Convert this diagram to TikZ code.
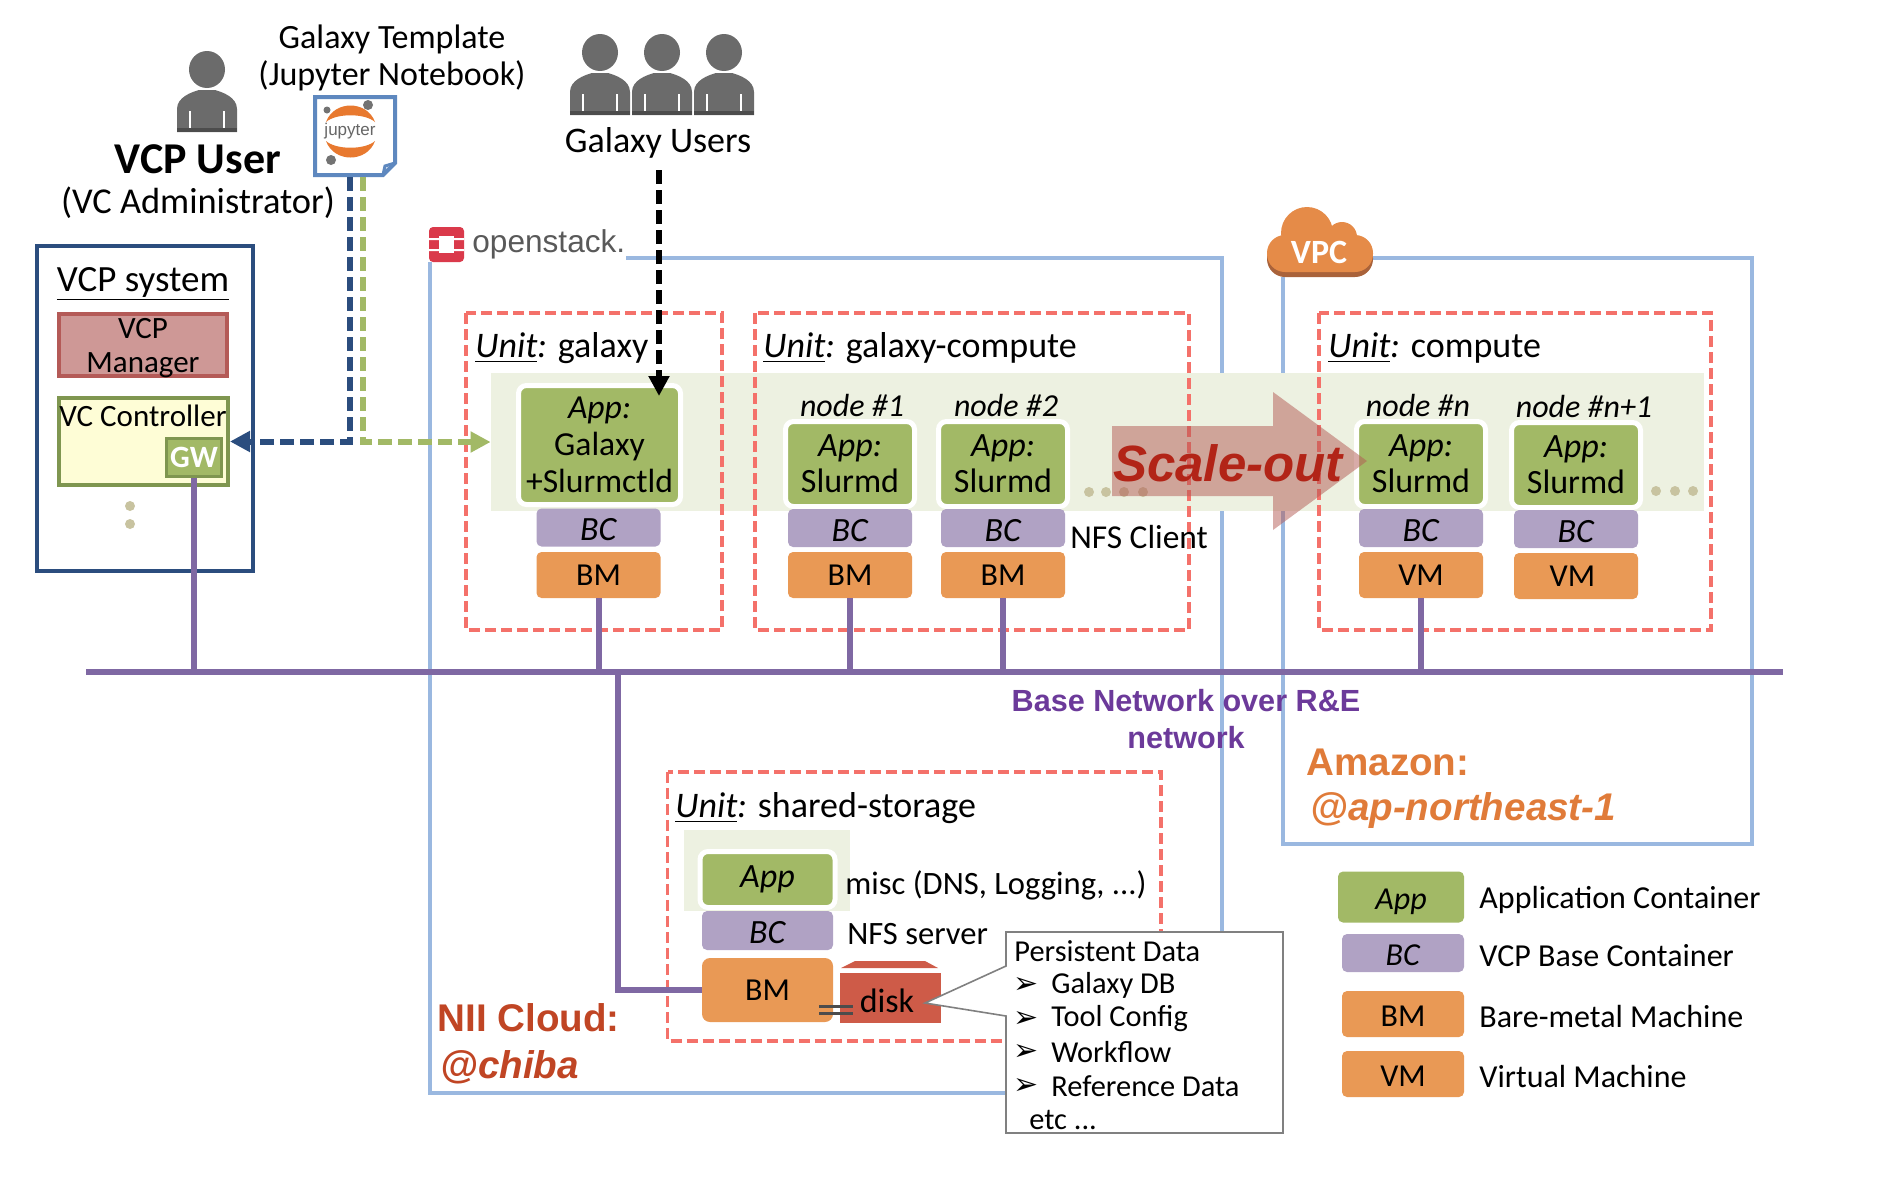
\documentclass[tikz,border=0pt]{standalone}
\usepackage{fontspec}
\setmainfont{Carlito}
\newfontfamily\arialfont{Liberation Sans}
\newfontfamily\symbolfont{DejaVu Sans}
\usepackage{tikz}
\usetikzlibrary{arrows.meta, shapes.geometric}
\usepackage{xcolor}
\definecolor{NavyLine}{HTML}{2B4D7E}
\definecolor{CloudBlue}{HTML}{9AB8E0}
\definecolor{UnitRed}{HTML}{F4716A}
\definecolor{BandGreen}{HTML}{EDF1E1}
\definecolor{AppGreen}{HTML}{A2B966}
\definecolor{EdgeGreen}{HTML}{7F9650}
\definecolor{BCPurple}{HTML}{B0A2C4}
\definecolor{BMOrange}{HTML}{E99955}
\definecolor{NetPurple}{HTML}{7F68A3}
\definecolor{TextPurple}{HTML}{6C3A9A}
\definecolor{DotGray}{HTML}{C8C3A0}
\definecolor{PersonGray}{HTML}{6B6B6B}
\definecolor{DocBlue}{HTML}{5E88BF}
\definecolor{JupOrange}{HTML}{E8792F}
\definecolor{VpcOrange}{HTML}{E58B48}
\definecolor{VpcDark}{HTML}{A9623A}
\definecolor{StackRed}{HTML}{DA3A4B}
\definecolor{NiiRed}{HTML}{C04524}
\definecolor{AmazonOrange}{HTML}{E07B39}
\definecolor{ScaleRed}{HTML}{B22417}
\definecolor{ScaleFill}{HTML}{B35953}
\definecolor{DiskRed}{HTML}{CE5B48}
\definecolor{ManagerEdge}{HTML}{B45A57}
\definecolor{ManagerFill}{HTML}{CE9896}
\definecolor{CtrlFill}{HTML}{FEFDD6}
\tikzset{
  txt/.style={inner sep=0pt, font=\fontsize{18}{21}\selectfont},
  unitbox/.style={draw=UnitRed, line width=1.6pt, dash pattern=on 5.5pt off 2.5pt},
  cloudline/.style={draw=CloudBlue, line width=2pt},
  netline/.style={draw=NetPurple, line width=3pt},
  appbox/.style={draw=white, fill=AppGreen, line width=2.5pt, rounded corners=4pt, inner sep=0pt,
                 align=center, font=\fontsize{17}{18}\selectfont},
  partbox/.style={rounded corners=2.5pt, inner sep=0pt, align=center, text height=10.5pt, text depth=0pt,
                  font=\fontsize{16}{18}\selectfont},
  bcbox/.style={partbox, fill=BCPurple, minimum width=62pt, minimum height=19pt, text height=13pt, font=\fontsize{17}{18}\selectfont},
  bmbox/.style={partbox, fill=BMOrange, minimum width=62pt, minimum height=23pt},
  arrowdash/.style={line width=3pt, dash pattern=on 7pt off 3pt, -{Triangle[length=10pt,width=10pt]}},
  dotmark/.style={circle, fill=DotGray, minimum size=5pt, inner sep=0pt},
  personicon/.pic={
    \fill[PersonGray] (0,18.5) ellipse [x radius=18, y radius=18.5];
    \fill[PersonGray] (-30,81) -- (-30,58) .. controls (-30,46) and (-15,41) .. (-8,39) -- (8,39)
      .. controls (15,41) and (30,46) .. (30,58) -- (30,81) -- cycle;
    \fill[black!70] (-30,77) rectangle (30,81);
    \draw[white, line width=0.6pt] (-17,60) -- (-17,77) (17,60) -- (17,77);
  }
}
\begin{document}
\begin{tikzpicture}[x=0.5pt, y=-0.5pt]
  \useasboundingbox (0,0) rectangle (1882,1184);

  \pic at (207,51) {personicon};
  \foreach \cx in {600,662,724} {
    \pic at (\cx,34) {personicon};
  }
  \node[txt, font=\fontsize{22}{24}\selectfont\bfseries] (vcpuser) at (198,159) {VCP User};
  \node[txt, font=\fontsize{18.2}{21}\selectfont] (vcadmin) at (198,203) {(VC Administrator)};
  \node[txt, font=\fontsize{17}{21}\selectfont] (template) at (392,39) {Galaxy Template};
  \node[txt, font=\fontsize{17}{21}\selectfont] (notebook) at (392,76) {(Jupyter Notebook)};
  \node[txt] (galaxyusers) at (658,143) {Galaxy Users};

  \draw[draw=DocBlue, fill=white, line width=2pt] (315,97) -- (395,97) -- (395,163) -- (383,175) -- (315,175) -- cycle;
  \draw[draw=DocBlue, line width=1.5pt] (395,163) -- (385,166) -- (383,175);
  \fill[JupOrange] (326,122) .. controls (334,100) and (367,100) .. (375,122) .. controls (365,113) and (336,113) .. (326,122) -- cycle;
  \fill[JupOrange] (326,141) .. controls (334,163) and (367,163) .. (375,141) .. controls (365,150) and (336,150) .. (326,141) -- cycle;
  \node[inner sep=0pt, text=black!60, font=\arialfont\fontsize{8.5}{10}\selectfont] (jupyter) at (350,131) {jupyter};
  \fill[black!55] (368,105) circle (5) (327,110) circle (3.5) (331,160) circle (5);
  \coordinate (docnavy) at (349.5,177);
  \coordinate (docgreen) at (363,177);

  \node[draw=NavyLine, line width=2pt, minimum width=108pt, minimum height=162.5pt, inner sep=0pt] (vcpsys) at (144.75,408.5) {};
  \node[txt, font=\fontsize{18.5}{21}\selectfont] (vcpsyslabel) at (143,284) {\underline{VCP system}};
  \node[draw=ManagerEdge, fill=ManagerFill, line width=2pt, minimum width=84pt, minimum height=31pt, inner sep=0pt] (vcpmanager) at (143,345) {};
  \node[inner sep=0pt, align=center, font=\fontsize{15.5}{17}\selectfont] (vcpmanagerlabel) at (143,348) {VCP\\Manager};
  \node[draw=EdgeGreen, fill=CtrlFill, line width=2pt, minimum width=84.5pt, minimum height=43.5pt, inner sep=0pt] (vcctrl) at (143.5,441.5) {};
  \node[inner sep=0pt, font=\fontsize{15.5}{18}\selectfont] (vcctrllabel) at (143,416) {VC Controller};
  \node[draw=EdgeGreen, fill=AppGreen, line width=1.5pt, minimum width=27.5pt, minimum height=19pt, inner sep=0pt, text=white,
        text height=10.5pt, text depth=0pt, font=\fontsize{15.5}{17}\selectfont\bfseries] (vcgw) at (194,457) {GW};
  \node[dotmark] (vcdot1) at (130,506) {};
  \node[dotmark] (vcdot2) at (130,524) {};

  \draw[cloudline] (626,258) -- (1222,258) -- (1222,1093) -- (430,1093) -- (430,262);
  \draw[cloudline] (1373,258) -- (1752,258) -- (1752,844) -- (1283,844) -- (1283,277);

  \fill[StackRed, rounded corners=2pt] (429,227) rectangle (464,262);
  \fill[white] (439,236) rectangle (454,253);
  \fill[white] (429,238) rectangle (439,240) (429,249) rectangle (439,251) (454,238) rectangle (464,240) (454,249) rectangle (464,251);
  \node[inner sep=0pt, anchor=west, text=black!65, font=\arialfont\fontsize{15.8}{18}\selectfont] (openstack) at (472,244) {openstack.};

  \fill[VpcDark, rounded corners=9pt] (1267,240) rectangle (1373,277);
  \fill[VpcOrange, rounded corners=9pt] (1267,235) rectangle (1373,272);
  \fill[VpcOrange] (1307,233) circle (26) (1342,237) circle (15);
  \node[inner sep=0pt, text=white, font=\fontsize{17}{20}\selectfont\bfseries] (vpclabel) at (1319,252) {VPC};

  \node[fill=BandGreen, minimum width=606.5pt, minimum height=69pt, inner sep=0pt] (band) at (1097.5,442) {};

  \draw[unitbox] (466,313) rectangle (722,630);
  \draw[unitbox] (755,313) rectangle (1189,630);
  \draw[unitbox] (1319,313) rectangle (1711,630);
  \draw[unitbox] (667.5,772) rectangle (1161,1041);
  \node[txt, anchor=west] (unitgalaxy) at (475,348.5) {\underline{\textit{Unit}}\textit{:} galaxy};
  \node[txt, anchor=west] (unitcompute) at (763,348.5) {\underline{\textit{Unit}}\textit{:} galaxy-compute};
  \node[txt, anchor=west] (unitaws) at (1328,348.5) {\underline{\textit{Unit}}\textit{:} compute};
  \node[txt, anchor=west] (unitstorage) at (675,808.5) {\underline{\textit{Unit}}\textit{:} shared-storage};

  \node[appbox, minimum width=81pt, minimum height=59.5pt, font=\fontsize{16.8}{18.5}\selectfont] (appgalaxy) at (599.5,445) {\textit{App:}\\Galaxy\\+Slurmctld};
  \node[bcbox] (bcgalaxy) at (598.5,527.5) {\textit{BC}};
  \node[bmbox] (bmgalaxy) at (598.5,575) {BM};

  \foreach \i/\cx/\lx/\dy/\nodename/\machine in {
    1/850/852/0/{node \#1}/BM,
    2/1003/1006/0/{node \#2}/BM,
    3/1421/1418/0/{node \#n}/VM,
    4/1576/1584/1/{node \#n+1}/VM
  }{
    \node[inner sep=0pt, font=\fontsize{16}{18}\selectfont\itshape] (nodelabel\i) at (\lx,405+\dy) {\nodename};
    \node[appbox, minimum width=64.5pt, minimum height=42.5pt] (app\i) at (\cx,464+\dy) {\textit{App:}\\Slurmd};
    \node[bcbox] (bc\i) at (\cx,528+\dy) {\textit{BC}};
    \node[bmbox] (bm\i) at (\cx,575+\dy) {\machine};
  }
  \foreach \i/\cx/\cy in {1/1089/492, 2/1106/492, 3/1124/492, 4/1143/492, 5/1656/491, 6/1675/491, 7/1693/491} {
    \node[dotmark] (banddot\i) at (\cx,\cy) {};
  }
  \node[txt, anchor=west, font=\fontsize{16.7}{20}\selectfont] (nfsclient) at (1070,537) {NFS Client};

  \node[fill=BandGreen, minimum width=83pt, minimum height=40.5pt, inner sep=0pt] (storageband) at (767,870.5) {};
  \node[appbox, minimum width=67.5pt, minimum height=28pt] (app5) at (767.5,879.5) {\textit{App}};
  \node[partbox, fill=BCPurple, minimum width=65.5pt, minimum height=19.5pt, text height=13pt, font=\fontsize{17}{18}\selectfont] (bc5) at (767.5,930.5) {\textit{BC}};
  \node[partbox, fill=BMOrange, minimum width=65.5pt, minimum height=32pt, rounded corners=4pt] (bm5) at (767.5,990) {BM};
  \node[txt, anchor=west, font=\fontsize{16.3}{20}\selectfont] (misclabel) at (845,885) {misc (DNS, Logging, ...)};
  \node[txt, anchor=west, font=\fontsize{16.3}{20}\selectfont] (nfsserver) at (847,934) {NFS server};
  \fill[DiskRed] (855,961) -- (925,961) -- (938,968) -- (841,968) -- cycle;
  \node[fill=DiskRed, minimum width=50.5pt, minimum height=25pt, inner sep=0pt] (disk) at (890.5,998) {};
  \node[inner sep=0pt, font=\fontsize{17}{20}\selectfont] (disklabel) at (887,1001) {disk};
  \draw[black!70, line width=1.5pt] (819,1006) -- (853,1006) (819,1013) -- (853,1013);

  \coordinate (netleft) at (86,672);
  \coordinate (netright) at (1783,672);
  \coordinate (netstorage) at (618,672);
  \draw[netline] (netleft) -- (netright);
  \foreach \src in {vcgw, bmgalaxy, bm1, bm2, bm3} {
    \draw[netline] (\src.south) -- (\src.south |- netleft);
  }
  \draw[netline] (netstorage) |- (bm5.west);

  \node[inner sep=0pt, align=center, text=TextPurple, font=\arialfont\fontsize{15.3}{18.5}\selectfont\bfseries] (netlabel) at (1186,719.5) {Base Network over R\&E\\network};
  \node[inner sep=0pt, anchor=west, text=NiiRed, font=\arialfont\fontsize{19.3}{22}\selectfont\bfseries] (niicloud) at (437,1018) {NII Cloud:};
  \node[inner sep=0pt, anchor=west, text=NiiRed, font=\arialfont\fontsize{19.3}{22}\selectfont\bfseries\itshape] (niichiba) at (440,1067) {@chiba};
  \node[inner sep=0pt, anchor=west, text=AmazonOrange, font=\arialfont\fontsize{19.3}{22}\selectfont\bfseries] (amazon) at (1306,762) {Amazon:};
  \node[inner sep=0pt, anchor=west, text=AmazonOrange, font=\arialfont\fontsize{19.3}{22}\selectfont\bfseries\itshape] (amazonzone) at (1310,811) {@ap-northeast-1};

  \fill[ScaleFill, opacity=0.5] (1112,426) -- (1273,426) -- (1273,392) -- (1367,461) -- (1273,530) -- (1273,496) -- (1112,496) -- cycle;
  \node[inner sep=0pt, text=ScaleRed, font=\arialfont\fontsize{25.5}{28}\selectfont\bfseries\itshape] (scaleout) at (1228,463) {Scale-out};

  \coordinate (usersout) at (659,170);
  \coordinate (appin) at (659,396);
  \draw[arrowdash, draw=black] (usersout) -- (appin);
  \draw[arrowdash, draw=NavyLine] (docnavy) |- (vcctrl.east);
  \draw[arrowdash, draw=AppGreen] (docgreen) |- (band.west);

  \draw[draw=black!50, fill=white, line width=0.8pt] (1006,932) -- (1283,932) -- (1283,1133) -- (1006,1133) -- (1006,1016) -- (925,1003) -- (1006,966) -- cycle;
  \node[inner sep=0pt, anchor=west, font=\fontsize{15.2}{18}\selectfont] (persist) at (1014,951) {Persistent Data};
  \foreach \i/\cy/\item in {1/985/Galaxy DB, 2/1019/Tool Config, 3/1052/Workflow, 4/1086/Reference Data} {
    \node[inner sep=0pt, anchor=west, font=\symbolfont\fontsize{15}{16}\selectfont] (bullet\i) at (1013,\cy) {➢};
    \node[inner sep=0pt, anchor=west, font=\fontsize{15.2}{18}\selectfont] (persist\i) at (1051,\cy) {\item};
  }
  \node[inner sep=0pt, anchor=west, font=\fontsize{15.2}{18}\selectfont] (persistetc) at (1029,1120) {etc ...};

  \foreach \i/\cx/\wide/\cy/\high/\col/\tag/\desc in {
    1/1401/63/897/25.5/AppGreen/{\textit{App}}/Application Container,
    2/1403/61/953/19/BCPurple/{\textit{BC}}/VCP Base Container,
    3/1403/61/1014/23/BMOrange/BM/Bare-metal Machine,
    4/1403/61/1074/23/BMOrange/VM/Virtual Machine
  }{
    \node[partbox, fill=\col, minimum width=\wide pt, minimum height=\high pt, text height=12pt] (legend\i) at (\cx,\cy) {\tag};
    \node[inner sep=0pt, anchor=west, font=\fontsize{16}{20}\selectfont] (legendtext\i) at (1479,\cy+2.5) {\desc};
  }
\end{tikzpicture}
\end{document}
